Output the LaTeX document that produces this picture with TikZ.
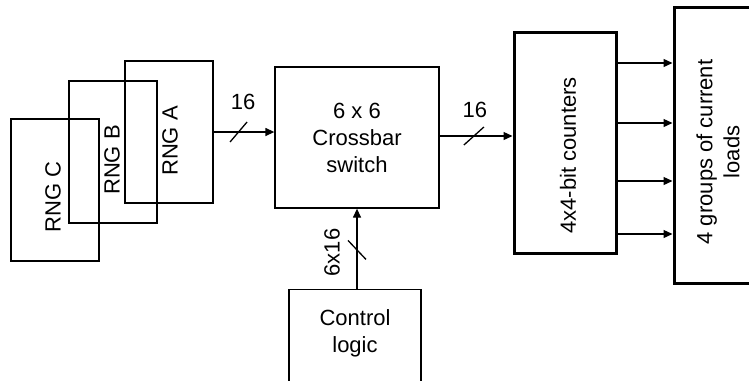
\documentclass[tikz,border=0pt]{standalone}
\usepackage{fontspec}
\setmainfont{Liberation Sans}
\usetikzlibrary{arrows.meta,positioning,calc}

\begin{document}
\begin{tikzpicture}[x=1pt, y=-1pt,
  font=\fontsize{22}{27}\selectfont, >={Triangle[length=9pt,width=8pt]},
  blk/.style={draw=black, line width=1.3pt, minimum width=88pt, minimum height=142pt, inner sep=0pt},
  fat/.style={draw=black, line width=3pt, inner sep=0pt},
  rot/.style={rotate=90, align=center, inner sep=0pt},
  bus/.style={->, draw=black, line width=1.3pt},
  cut/.style={draw=black, line width=1.3pt},
  lbl/.style={inner sep=0pt}]
\clip (0,0) rectangle (749,380);
% random number generators, stacked
\node[blk] (rngC) at (55,190) {};
\node[blk] (rngB) at (113,152) {};
\node[blk] (rngA) at (169,132) {};
\node[rot] at ($(rngC.center)+(-2,7)$) {RNG C};
\node[rot] at ($(rngB.center)+(-1,8)$) {RNG B};
\node[rot] at ($(rngA.center)+(1,9)$) {RNG A};
% switch and its control
\node[blk, minimum width=164pt, minimum height=141pt, align=center] (xbar) at (357,137.5) {6 x 6\\Crossbar\\switch};
\node[blk, minimum width=132pt, minimum height=110pt, anchor=north] (ctrl) at (355,289) {};
\node[lbl, align=center] at (355,333) {Control\\logic};
% counters and loads
\node[fat, minimum width=102pt, minimum height=221pt] (cnt) at (565,142.5) {};
\node[fat, minimum width=88pt, minimum height=276pt] (loads) at (718,145) {};
\node[rot] at ($(cnt.center)+(3,13)$) {4x4-bit counters};
\node[rot] at ($(loads.center)+(0,7)$) {4 groups of current\\loads};
% buses
\draw[bus] (rngA.east) -- (rngA.east -| xbar.west);
\coordinate (s1) at ($(rngA.east)!0.41!(rngA.east -| xbar.west)$);
\draw[cut] ($(s1)+(-8.5,10)$) -- ($(s1)+(8.5,-10)$);
\node[lbl] at ($(s1)+(4.5,-30)$) {16};
\coordinate (x2) at ($(xbar.east)+(0,-1.5)$);
\draw[bus] (x2) -- (x2 -| cnt.west);
\coordinate (s2) at ($(x2)!0.47!(x2 -| cnt.west)$);
\draw[cut] ($(s2)+(-10,9)$) -- ($(s2)+(10,-9)$);
\node[lbl] at ($(s2)+(1,-26)$) {16};
\coordinate (c3) at ($(ctrl.north)+(2,0)$);
\draw[bus] (c3) -- (c3 |- xbar.south);
\coordinate (s3) at ($(c3)!0.48!(c3 |- xbar.south)$);
\draw[cut] ($(s3)+(-9,-10)$) -- ($(s3)+(9,9)$);
\node[lbl, rotate=90] at ($(s3)+(-25,2)$) {6x16};
\foreach \yy in {63,123,181,234}
  \draw[bus] (cnt.east |- 0,\yy) -- (loads.west |- 0,\yy);
\end{tikzpicture}
\end{document}
